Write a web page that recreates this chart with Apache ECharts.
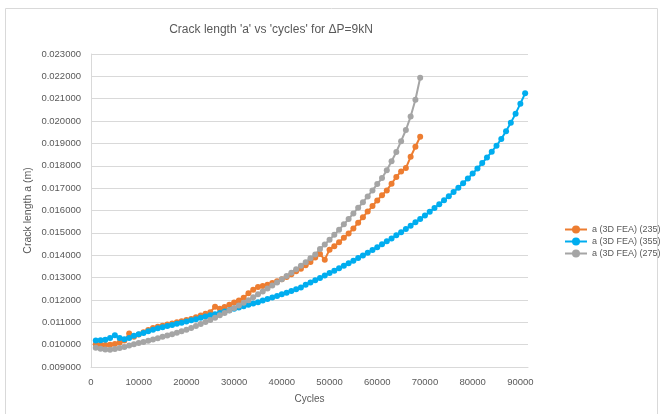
<!DOCTYPE html>
<html>
<head>
<meta charset="utf-8">
<script src="https://cdn.jsdelivr.net/npm/echarts@6/dist/echarts.min.js"></script>
<style>html,body{margin:0;padding:0;background:#fff;}#c{width:663px;height:414px;}</style>
</head>
<body>
<div id="c"></div>
<script>
const titleText = "Crack length 'a' vs 'cycles' for \u0394P=9kN";
const xAxisName = 'Cycles';
const yAxisName = 'Crack length a (m)';
const seriesNames = ['a (3D FEA) (235)', 'a (3D FEA) (355)', 'a (3D FEA) (275)'];

const cycles69 = [1000,2000,3000,4000,5000,6000,7000,8000,9000,10000,11000,12000,13000,14000,15000,16000,17000,18000,19000,20000,21000,22000,23000,24000,25000,26000,27000,28000,29000,30000,31000,32000,33000,34000,35000,36000,37000,38000,39000,40000,41000,42000,43000,44000,45000,46000,47000,48000,49000,50000,51000,52000,53000,54000,55000,56000,57000,58000,59000,60000,61000,62000,63000,64000,65000,66000,67000,68000,69000];
const cycles91 = [1000,2000,3000,4000,5000,6000,7000,8000,9000,10000,11000,12000,13000,14000,15000,16000,17000,18000,19000,20000,21000,22000,23000,24000,25000,26000,27000,28000,29000,30000,31000,32000,33000,34000,35000,36000,37000,38000,39000,40000,41000,42000,43000,44000,45000,46000,47000,48000,49000,50000,51000,52000,53000,54000,55000,56000,57000,58000,59000,60000,61000,62000,63000,64000,65000,66000,67000,68000,69000,70000,71000,72000,73000,74000,75000,76000,77000,78000,79000,80000,81000,82000,83000,84000,85000,86000,87000,88000,89000,90000,91000];

const a235 = [0.01002,0.01000,0.00998,0.01000,0.01003,0.01010,0.01018,0.01050,0.01035,0.01045,0.01055,0.01065,0.01075,0.01080,0.01085,0.01090,0.01095,0.01100,0.01105,0.01110,0.01115,0.01122,0.01130,0.01138,0.01145,0.01170,0.01160,0.01168,0.01178,0.01188,0.01198,0.01210,0.01230,0.01245,0.01258,0.01262,0.01268,0.01276,0.01284,0.01293,0.01303,0.01315,0.01328,0.01340,0.01355,0.01370,0.01390,0.01405,0.01380,0.01425,0.01440,0.01458,0.01478,0.01497,0.01520,0.01545,0.01570,0.01595,0.01620,0.01645,0.01668,0.01690,0.01720,0.01750,0.01775,0.01790,0.01840,0.01885,0.01930];

const a355 = [0.01018,0.01020,0.01022,0.01030,0.01042,0.01030,0.01024,0.01030,0.01040,0.01046,0.01052,0.01060,0.01067,0.01073,0.01078,0.01083,0.01088,0.01093,0.01098,0.01104,0.01109,0.01114,0.01120,0.01126,0.01131,0.01136,0.01142,0.01148,0.01154,0.01160,0.01166,0.01172,0.01178,0.01184,0.01190,0.01197,0.01204,0.01211,0.01218,0.01225,0.01232,0.01240,0.01248,0.01256,0.01268,0.01278,0.01288,0.01298,0.01309,0.01320,0.01331,0.01342,0.01353,0.01364,0.01375,0.01387,0.01399,0.01411,0.01423,0.01436,0.01449,0.01462,0.01475,0.01489,0.01503,0.01517,0.01532,0.01547,0.01562,0.01578,0.01594,0.01611,0.01628,0.01646,0.01664,0.01683,0.01702,0.01722,0.01743,0.01765,0.01788,0.01812,0.01837,0.01863,0.01890,0.01920,0.01955,0.01993,0.02033,0.02078,0.02124];

const a275 = [0.00986,0.00982,0.00978,0.00977,0.00980,0.00985,0.00990,0.00996,0.01002,0.01007,0.01012,0.01017,0.01023,0.01029,0.01035,0.01041,0.01047,0.01053,0.01060,0.01067,0.01075,0.01083,0.01092,0.01101,0.01110,0.01120,0.01131,0.01142,0.01153,0.01164,0.01175,0.01187,0.01199,0.01212,0.01225,0.01238,0.01251,0.01264,0.01278,0.01292,0.01307,0.01322,0.01337,0.01353,0.01369,0.01386,0.01403,0.01428,0.01448,0.01469,0.01491,0.01514,0.01538,0.01562,0.01587,0.01612,0.01637,0.01663,0.01690,0.01718,0.01745,0.01780,0.01820,0.01862,0.01910,0.01960,0.02020,0.02095,0.02194];

const colors = ['#ED7D31', '#00ADEF', '#A5A5A5'];

function pairs(xs, ys) { return xs.map((x, i) => [x, ys[i]]); }

const FONT = "'Liberation Sans', Arial, sans-serif";
const chart = echarts.init(document.getElementById('c'), null, {renderer: 'canvas'});
const mk = (name, xs, ys, color) => ({
  name: name, type: 'line', data: pairs(xs, ys),
  symbol: 'circle', symbolSize: 6, showSymbol: true,
  lineStyle: {color: color, width: 2}, itemStyle: {color: color},
  emphasis: {disabled: true}
});
chart.setOption({
  animation: false,
  color: colors,
  title: {
    text: titleText, left: 266, top: 19, textAlign: 'center',
    textStyle: {fontFamily: FONT, fontSize: 12, fontWeight: 'normal', color: '#595959'}
  },
  legend: {
    orient: 'vertical', left: 559, top: 220, itemGap: 3, itemWidth: 22, itemHeight: 10,
    textStyle: {fontFamily: FONT, fontSize: 9, color: '#595959'},
    data: seriesNames
  },
  grid: {left: 91, right: 135, top: 54, bottom: 47},
  xAxis: {
    type: 'value', min: 0, max: 91600, interval: 10000,
    name: xAxisName, nameLocation: 'middle', nameGap: 27,
    nameTextStyle: {fontFamily: FONT, fontSize: 10, color: '#595959'},
    axisLine: {show: true, lineStyle: {color: '#D9D9D9'}},
    axisTick: {show: false}, splitLine: {show: false},
    axisLabel: {fontFamily: FONT, fontSize: 9.5, color: '#595959', margin: 10,
      formatter: v => (v % 10000 === 0 ? String(v) : '')}
  },
  yAxis: {
    type: 'value', min: 0.009, max: 0.023, interval: 0.001,
    name: yAxisName, nameLocation: 'middle', nameGap: 57, nameRotate: 90,
    nameMoveOverlap: false,
    nameTextStyle: {fontFamily: FONT, fontSize: 10.5, color: '#595959'},
    axisLine: {show: true, lineStyle: {color: '#D9D9D9'}},
    axisTick: {show: false},
    splitLine: {show: true, lineStyle: {color: '#D9D9D9', width: 1}},
    axisLabel: {fontFamily: FONT, fontSize: 9.5, color: '#595959', margin: 10,
      formatter: v => v.toFixed(6)}
  },
  graphic: [{
    type: 'rect', silent: true, z: -1,
    shape: {x: 5.5, y: 8.5, width: 652, height: 412},
    style: {fill: null, stroke: '#D9D9D9', lineWidth: 1}
  }],
  series: [
    mk(seriesNames[0], cycles69, a235, colors[0]),
    mk(seriesNames[1], cycles91, a355, colors[1]),
    mk(seriesNames[2], cycles69, a275, colors[2])
  ]
});
</script>
</body>
</html>
